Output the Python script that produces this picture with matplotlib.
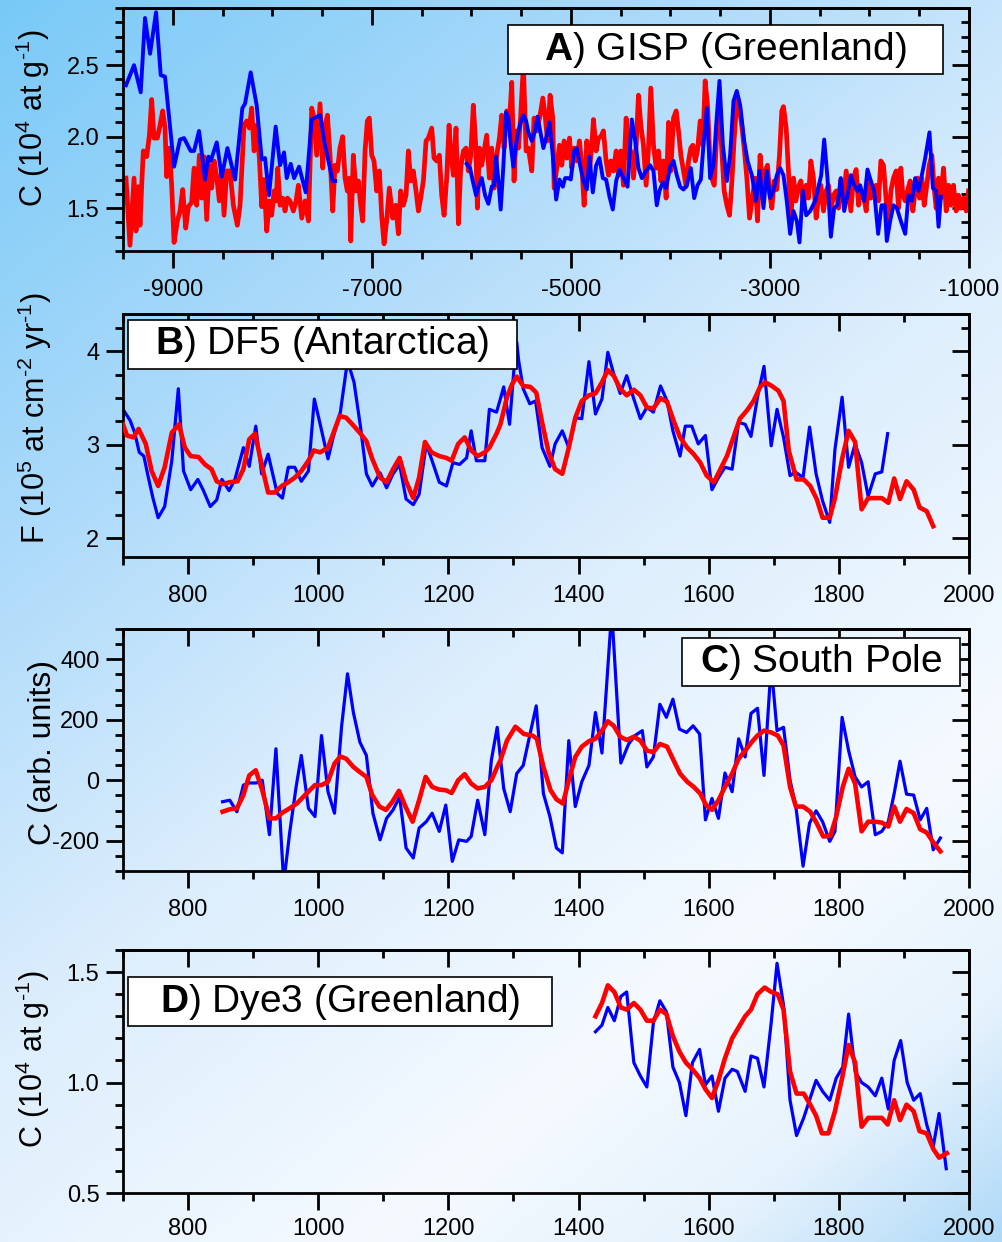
import numpy as np
import matplotlib
matplotlib.use("Agg")
import matplotlib.pyplot as plt
from matplotlib.ticker import MultipleLocator, FixedLocator, FormatStrFormatter
from matplotlib.patches import Rectangle

plt.rcParams['font.family'] = ['Liberation Sans', 'DejaVu Sans']
plt.rcParams['mathtext.fontset'] = 'custom'
plt.rcParams['mathtext.rm'] = 'Liberation Sans'
plt.rcParams['mathtext.it'] = 'Liberation Sans:italic'
plt.rcParams['mathtext.bf'] = 'Liberation Sans:bold'
plt.rcParams['axes.unicode_minus'] = False

# ---------------- data ----------------
gisp_red = [
    (-9470,1.71),(-9430,1.24),(-9389,1.71),(-9369,1.34),(-9346,1.65),(-9329,1.38),(-9312,1.66),(-9296,1.90),
    (-9262,1.86),(-9235,2.01),(-9212,2.26),(-9188,1.99),(-9155,1.99),(-9128,2.08),(-9101,2.18),(-9078,2.06),
    (-9061,1.72),(-9034,1.92),(-9011,1.66),(-8987,1.26),(-8954,1.41),(-8927,1.48),(-8900,1.63),(-8870,1.36),
    (-8843,1.51),(-8810,1.54),(-8786,1.78),(-8760,1.52),(-8733,1.87),(-8709,1.57),(-8686,1.86),(-8659,1.42),
    (-8632,1.80),(-8609,1.64),(-8585,1.83),(-8559,1.72),(-8532,1.55),(-8508,1.77),(-8485,1.45),(-8458,1.76),
    (-8425,1.76),(-8391,1.52),(-8351,1.38),(-8324,1.52),(-8284,2.08),(-8257,2.11),(-8230,2.06),(-8207,2.20),
    (-8183,1.90),(-8157,2.08),(-8130,1.85),(-8106,1.51),(-8083,1.70),(-8056,1.34),(-8029,1.55),(-8006,1.45),
    (-7982,1.62),(-7962,1.55),(-7945,1.78),(-7922,1.52),(-7895,1.57),(-7872,1.48),(-7848,1.57),(-7822,1.55),
    (-7788,1.48),(-7761,1.55),(-7738,1.66),(-7704,1.43),(-7671,1.55),(-7637,1.41),(-7604,2.20),(-7580,2.13),
    (-7554,1.87),(-7520,2.23),(-7493,1.78),(-7470,2.08),(-7446,2.15),(-7420,1.87),
    (-7393,1.48),(-7370,1.80),(-7346,1.76),(-7320,1.92),(-7293,2.00),(-7269,1.71),(-7246,1.62),(-7226,1.71),
    (-7212,1.27),(-7186,1.87),(-7159,1.62),(-7135,1.69),(-7112,1.52),(-7092,1.41),(-7068,1.90),(-7045,2.11),
    (-7025,2.13),(-7001,1.87),(-6978,1.83),(-6951,1.62),(-6924,1.76),(-6901,1.45),(-6877,1.25),(-6851,1.41),
    (-6824,1.64),(-6790,1.43),(-6760,1.52),(-6733,1.32),(-6710,1.62),(-6683,1.52),(-6656,1.59),(-6633,1.90),
    (-6609,1.69),(-6583,1.76),(-6556,1.62),(-6532,1.48),(-6509,1.57),(-6482,1.69),(-6455,1.97),(-6432,1.99),
    (-6398,2.06),(-6375,1.85),(-6348,1.83),(-6321,1.87),(-6298,1.59),(-6274,1.45),(-6248,1.71),(-6224,2.08),
    (-6207,1.90),(-6181,1.73),(-6154,2.06),(-6130,1.39),(-6107,1.78),(-6080,1.90),(-6053,1.92),(-6030,1.76),
    (-6006,1.87),(-5980,2.22),(-5956,1.94),(-5939,1.50),(-5919,1.92),(-5896,1.80),(-5872,1.90),(-5846,2.01),
    (-5819,1.71),(-5795,1.92),(-5772,1.64),(-5745,1.87),(-5718,1.99),(-5695,2.15),(-5671,1.92),(-5645,2.18),
    (-5621,2.06),(-5594,2.38),(-5571,1.69),(-5551,2.04),(-5527,1.92),(-5504,2.15),(-5477,2.50),(-5450,1.90),
    (-5427,1.92),(-5393,1.76),(-5370,2.13),(-5343,2.04),
    (-5309,2.15),(-5282,2.27),(-5259,2.15),(-5235,1.97),(-5209,2.29),(-5182,2.13),(-5168,1.64),(-5142,1.78),
    (-5115,1.94),(-5091,1.80),(-5068,1.97),(-5041,1.85),(-5014,1.99),(-4991,1.78),(-4967,1.92),(-4941,1.83),
    (-4914,1.97),(-4890,1.80),(-4867,1.52),(-4840,1.97),(-4813,1.76),(-4790,1.94),(-4773,2.12),(-4746,1.90),
    (-4723,1.99),(-4699,2.00),(-4673,2.04),(-4646,1.83),(-4622,1.73),(-4599,1.83),(-4572,1.76),(-4545,1.90),
    (-4522,1.73),(-4498,1.90),(-4472,1.66),(-4445,2.13),(-4421,1.85),(-4398,1.90),(-4371,1.71),(-4344,1.94),
    (-4321,2.29),(-4297,2.08),(-4271,1.94),(-4244,1.66),(-4220,1.92),(-4197,2.34),(-4170,1.94),(-4143,1.78),
    (-4120,1.90),(-4096,1.69),(-4070,1.83),(-4043,1.57),(-4019,2.10),(-3996,1.76),(-3969,2.13),(-3942,2.18),
    (-3919,2.04),(-3895,1.87),(-3869,1.76),(-3842,1.65),(-3818,1.83),(-3795,1.92),(-3775,1.94),(-3751,1.83),
    (-3728,1.90),(-3701,2.11),(-3674,1.94),(-3651,2.39),(-3627,2.22),(-3607,1.90),(-3584,1.71),(-3560,1.66),
    (-3533,2.05),(-3510,2.22),(-3483,1.90),(-3460,1.62),(-3433,1.52),(-3406,1.45),(-3383,1.68),(-3359,1.99),
    (-3333,2.25),(-3306,2.20),(-3282,2.07),(-3259,1.92),(-3232,1.71),(-3205,1.43),
    (-3149,1.71),(-3125,1.41),(-3099,1.87),(-3072,1.57),(-3048,1.76),(-3025,1.80),(-3005,1.62),(-2981,1.50),
    (-2958,1.69),(-2931,1.63),(-2904,1.87),(-2881,2.18),(-2864,2.21),(-2837,2.06),(-2814,1.76),(-2790,1.43),
    (-2763,1.71),(-2740,1.55),(-2713,1.65),(-2690,1.69),(-2663,1.52),(-2636,1.66),(-2613,1.57),(-2589,1.83),
    (-2563,1.71),(-2536,1.43),(-2512,1.57),(-2489,1.66),(-2462,1.48),(-2435,1.62),(-2412,1.66),(-2388,1.48),
    (-2362,1.59),(-2335,1.62),(-2311,1.50),(-2288,1.70),(-2261,1.55),(-2234,1.76),(-2211,1.62),(-2187,1.48),
    (-2161,1.71),(-2134,1.77),(-2110,1.52),(-2087,1.62),(-2060,1.59),(-2033,1.48),(-2010,1.71),(-1986,1.57),
    (-1960,1.62),(-1933,1.66),(-1909,1.55),(-1886,1.83),(-1859,1.80),(-1832,1.55),(-1809,1.36),(-1785,1.62),
    (-1759,1.71),(-1732,1.76),(-1708,1.50),(-1685,1.78),(-1665,1.59),(-1641,1.55),(-1618,1.62),(-1591,1.69),
    (-1564,1.48),(-1541,1.62),(-1517,1.71),(-1497,1.57),(-1474,1.71),(-1450,1.52),(-1424,1.66),(-1400,1.80),
    (-1373,1.87),(-1350,1.64),(-1330,1.50),(-1306,1.71),(-1283,1.57),(-1256,1.78),(-1229,1.48),(-1206,1.66),
    (-1182,1.52),(-1156,1.66),(-1129,1.48),(-1106,1.59),(-1082,1.50),(-1055,1.57),(-1028,1.48),(-1005,1.62),
]

gisp_blue_early = [
    (-9470,2.36),(-9389,2.50),(-9322,2.31),(-9279,2.83),(-9228,2.58),(-9168,2.87),(-9121,2.43),(-9078,2.42),
    (-8987,1.79),(-8927,1.98),(-8887,1.99),(-8820,1.90),(-8786,1.90),(-8736,2.04),(-8676,1.70),(-8642,1.86),
    (-8619,1.83),(-8558,1.96),(-8508,1.72),(-8451,1.92),(-8374,1.70),(-8301,2.20),(-8274,2.23),(-8217,2.45),
    (-8157,2.22),(-8106,1.84),(-8073,1.85),(-8033,1.59),(-7966,2.07),(-7922,1.80),(-7882,1.89),(-7855,1.71),
    (-7815,1.81),(-7781,1.71),(-7731,1.79),(-7664,1.61),(-7604,2.12),(-7520,2.15),(-7470,1.94),(-7393,1.69),
    (-7369,1.69),
]

gisp_blue_late = [
    (-6046,1.81),(-6013,1.78),(-5986,1.69),(-5953,1.59),(-5929,1.65),(-5896,1.71),(-5862,1.59),(-5829,1.53),
    (-5795,1.65),(-5772,1.66),(-5752,1.86),(-5728,1.69),(-5705,1.49),(-5678,1.80),(-5651,2.17),(-5628,2.13),
    (-5604,1.94),(-5578,1.79),(-5551,1.94),(-5527,2.04),(-5504,2.10),(-5477,2.15),(-5450,2.11),(-5427,2.03),
    (-5393,1.97),(-5360,2.04),(-5336,2.14),
    (-5309,2.04),(-5276,1.92),(-5242,2.01),(-5215,2.10),(-5182,1.87),(-5148,1.56),(-5115,1.70),(-5081,1.65),
    (-5058,1.71),(-5024,1.71),(-5001,1.70),(-4967,1.90),(-4941,1.92),(-4907,1.80),(-4874,1.69),(-4840,1.63),
    (-4813,1.86),(-4780,1.61),(-4746,1.80),(-4713,1.85),(-4679,1.71),(-4646,1.70),(-4612,1.58),(-4579,1.49),
    (-4545,1.69),(-4512,1.77),(-4472,1.71),(-4431,1.65),(-4388,2.12),(-4354,1.97),(-4321,1.78),(-4287,1.71),
    (-4244,1.76),(-4204,1.80),(-4170,1.76),(-4137,1.52),(-4110,1.62),(-4076,1.68),(-4043,1.64),(-4003,1.79),
    (-3969,1.83),(-3936,1.73),(-3902,1.65),(-3869,1.63),(-3835,1.66),(-3795,1.78),(-3761,1.57),(-3728,1.66),
    (-3694,1.70),(-3668,1.94),(-3634,2.20),(-3601,1.71),(-3567,1.80),(-3533,2.15),(-3507,2.39),(-3473,1.94),
    (-3433,1.69),(-3400,1.87),(-3366,2.25),(-3333,2.32),(-3299,2.22),(-3259,1.97),(-3225,1.83),(-3182,1.73),
    (-3139,1.55),(-3105,1.76),(-3065,1.50),(-3032,1.76),(-2998,1.57),(-2965,1.62),(-2931,1.73),(-2898,1.78),
    (-2864,1.73),(-2831,1.55),(-2797,1.32),(-2764,1.48),(-2730,1.41),(-2703,1.26),(-2670,1.62),(-2636,1.45),
    (-2596,1.48),(-2546,1.55),(-2512,1.65),(-2485,1.73),(-2455,1.98),(-2422,1.71),(-2388,1.30),(-2355,1.50),
    (-2321,1.52),(-2288,1.71),(-2254,1.48),(-2221,1.59),(-2187,1.73),(-2154,1.66),(-2120,1.62),(-2094,1.66),
    (-2053,1.55),(-2020,1.77),(-1986,1.69),(-1953,1.62),(-1913,1.32),(-1879,1.52),(-1846,1.52),(-1826,1.27),
    (-1792,1.41),(-1759,1.52),(-1725,1.50),(-1685,1.41),(-1641,1.32),(-1608,1.59),(-1574,1.55),(-1541,1.71),
    (-1507,1.62),(-1474,1.73),(-1440,1.85),(-1397,2.03),(-1363,1.64),(-1330,1.62),(-1306,1.37),(-1283,1.58),
]

df5_blue = [
    (700,3.38),(711,3.26),(718,3.13),(725,2.92),(732,2.88),(739,2.65),(746,2.43),(754,2.22),(764,2.34),
    (775,2.83),(785,3.60),(793,2.72),(804,2.52),(815,2.63),(823,2.52),(834,2.34),(844,2.41),(852,2.63),
    (863,2.51),(872,2.63),(885,2.97),(894,2.77),(904,3.20),(913,2.69),(923,2.90),(930,2.69),(937,2.48),
    (945,2.43),(954,2.76),(964,2.76),(974,2.61),(985,2.72),(994,3.49),(1003,3.22),(1015,2.85),(1023,3.08),
    (1034,3.35),(1045,3.90),(1055,3.67),(1065,3.19),(1074,2.69),(1083,2.56),(1095,2.70),(1105,2.54),
    (1115,2.69),(1125,2.79),(1135,2.42),(1146,2.36),(1155,2.47),(1166,3.01),(1174,2.85),(1186,2.60),
    (1197,2.56),(1207,2.81),(1217,2.79),(1228,2.86),(1235,3.15),(1243,2.83),(1256,2.83),(1263,3.38),
    (1274,3.35),(1279,3.47),(1285,3.62),(1294,3.22),(1301,3.83),(1305,4.10),(1308,3.90),(1315,3.60),
    (1325,3.44),(1334,3.47),(1344,2.97),(1356,2.77),(1364,3.01),(1375,3.15),(1385,2.97),(1395,3.29),
    (1405,3.28),(1416,3.89),(1426,3.33),(1436,3.49),(1445,3.99),(1454,3.76),(1464,3.55),(1474,3.74),
    (1485,3.49),(1495,3.28),(1505,3.40),(1515,3.35),(1526,3.63),(1536,3.47),(1545,3.15),(1556,2.88),
    (1564,3.20),(1574,3.20),(1584,3.01),(1595,3.10),(1605,2.52),(1615,2.65),(1625,2.76),(1636,2.74),
    (1646,3.24),(1656,3.22),(1665,3.09),(1675,3.51),(1685,3.84),(1696,2.99),(1705,3.38),(1715,3.08),
    (1725,2.67),(1733,2.71),(1745,2.65),(1755,3.19),(1765,2.69),(1775,2.40),(1786,2.17),(1794,2.95),
    (1805,3.51),(1815,2.76),(1825,3.01),(1835,2.81),(1845,2.45),(1856,2.69),(1866,2.71),(1875,3.12),
]

df5_red = [
    (700,3.22),(706,3.10),(716,3.08),(724,3.17),(735,3.01),(744,2.72),(754,2.56),(764,2.76),(775,3.13),
    (786,3.22),(795,2.97),(804,2.88),(816,2.87),(826,2.79),(836,2.74),(844,2.61),(853,2.58),(864,2.60),
    (876,2.61),(885,2.74),(894,3.06),(903,3.12),(913,2.79),(923,2.49),(933,2.49),(944,2.56),(954,2.60),
    (964,2.65),(974,2.72),(985,2.83),(993,2.94),(1003,2.92),(1015,2.97),(1023,3.12),(1033,3.31),(1043,3.29),
    (1055,3.20),(1065,3.12),(1074,3.04),(1083,2.85),(1095,2.65),(1105,2.60),(1115,2.74),(1125,2.86),
    (1135,2.61),(1146,2.43),(1155,2.65),(1164,3.03),(1174,2.92),(1186,2.88),(1197,2.86),(1205,2.83),
    (1215,3.01),(1225,3.08),(1235,2.94),(1245,2.88),(1256,2.92),(1263,2.97),(1274,3.12),(1280,3.22),
    (1290,3.51),(1298,3.65),(1305,3.73),(1315,3.63),(1326,3.62),(1335,3.56),(1344,3.24),(1354,2.92),
    (1364,2.74),(1375,2.69),(1385,2.97),(1395,3.29),(1405,3.47),(1416,3.53),(1426,3.55),(1436,3.67),
    (1445,3.80),(1454,3.74),(1464,3.60),(1474,3.53),(1485,3.59),(1495,3.53),(1505,3.40),(1515,3.39),
    (1526,3.50),(1536,3.46),(1546,3.26),(1556,3.08),(1567,2.97),(1577,2.90),(1587,2.81),(1597,2.67),
    (1608,2.60),(1618,2.74),(1628,2.88),(1638,3.08),(1648,3.28),(1659,3.37),(1669,3.47),(1679,3.62),
    (1687,3.67),(1697,3.63),(1707,3.58),(1715,3.47),(1723,2.94),(1735,2.63),(1746,2.63),(1756,2.56),
    (1766,2.42),(1775,2.22),(1786,2.22),(1794,2.43),(1805,2.85),(1815,3.15),(1825,3.03),(1835,2.31),
    (1845,2.43),(1856,2.43),(1866,2.43),(1876,2.38),(1885,2.64),(1894,2.42),(1904,2.61),(1915,2.52),
    (1924,2.33),(1935,2.29),(1945,2.13),
]

sp_blue = [
    (853,-71),(864,-66),(875,-104),(885,-16),(894,-9),(905,-9),(914,0),(925,-180),(935,104),(947,-340),
    (956,-175),(966,-22),(974,82),(985,-93),(995,-120),(1005,148),(1015,-38),(1025,-109),(1036,180),
    (1045,352),(1054,224),(1064,126),(1074,82),(1084,-109),(1095,-197),(1105,-126),(1115,-98),(1125,-55),
    (1135,-224),(1146,-257),(1155,-158),(1166,-137),(1175,-109),(1186,-169),(1196,-82),(1206,-268),
    (1216,-197),(1228,-202),(1235,-186),(1245,-66),(1256,-180),(1266,66),(1275,175),(1285,-27),(1295,-104),
    (1305,22),(1315,49),(1325,148),(1335,246),(1346,-44),(1356,-120),(1366,-224),(1375,-240),(1385,131),
    (1395,-87),(1405,-5),(1416,49),(1426,224),(1436,90),(1451,560),(1465,57),(1477,120),(1487,148),
    (1498,164),(1505,44),(1515,77),(1525,251),(1535,208),(1545,268),(1555,169),(1566,158),(1576,180),
    (1586,153),(1595,-131),(1605,-60),(1615,-126),(1625,24),(1636,-38),(1646,137),(1656,77),(1665,221),
    (1675,238),(1685,16),(1696,380),(1705,164),(1715,175),(1725,0),(1734,-87),(1745,-284),(1755,-142),
    (1765,-101),(1775,-137),(1786,-202),(1794,-169),(1805,208),(1815,98),(1825,11),(1835,-22),(1845,-5),
    (1856,-180),(1866,-169),(1876,-137),(1885,-44),(1894,63),(1904,-46),(1915,-49),(1925,-131),(1935,-93),
    (1945,-230),(1956,-191),
]

sp_red = [
    (853,-104),(864,-96),(875,-93),(885,-49),(894,16),(904,33),(914,-33),(925,-126),(935,-126),(945,-107),
    (956,-93),(967,-77),(977,-55),(987,-33),(995,-16),(1005,-16),(1015,-5),(1025,55),(1034,79),(1043,71),
    (1054,44),(1064,27),(1074,11),(1083,-49),(1094,-87),(1104,-98),(1114,-71),(1124,-35),(1134,-87),
    (1145,-137),(1155,-66),(1165,11),(1175,-22),(1186,-31),(1196,-33),(1205,-42),(1215,0),(1225,20),
    (1235,-11),(1245,-27),(1256,-22),(1266,0),(1275,44),(1280,66),(1290,131),(1303,177),(1316,153),
    (1329,148),(1336,137),(1346,44),(1357,-33),(1366,-63),(1376,-77),(1385,0),(1395,77),(1405,111),
    (1416,129),(1426,137),(1436,164),(1445,195),(1454,180),(1464,144),(1474,133),(1485,144),(1495,131),
    (1505,98),(1515,93),(1525,120),(1536,111),(1546,66),(1556,22),(1567,-5),(1577,-22),(1587,-44),
    (1596,-82),(1605,-98),(1615,-66),(1625,-22),(1636,22),(1646,71),(1656,98),(1666,126),(1675,148),
    (1685,164),(1696,158),(1706,148),(1715,115),(1725,-22),(1734,-87),(1745,-87),(1756,-104),(1766,-142),
    (1776,-186),(1787,-184),(1796,-120),(1806,-22),(1815,38),(1825,-11),(1835,-169),(1845,-137),
    (1856,-137),(1866,-140),(1876,-153),(1885,-87),(1894,-137),(1904,-95),(1915,-109),(1925,-162),
    (1935,-173),(1945,-205),(1956,-235),
]

dye3_blue = [
    (1426,1.23),(1436,1.26),(1445,1.34),(1455,1.28),(1465,1.39),(1474,1.41),(1485,1.09),(1495,1.03),
    (1505,0.98),(1515,1.27),(1525,1.37),(1535,1.32),(1545,1.07),(1555,1.00),(1565,0.85),(1575,1.09),
    (1586,1.15),(1595,0.99),(1605,1.03),(1615,0.87),(1625,1.02),(1636,1.06),(1644,1.05),(1656,0.96),
    (1665,1.12),(1675,1.11),(1685,0.98),(1696,1.27),(1705,1.54),(1715,1.35),(1725,0.92),(1735,0.76),
    (1746,0.84),(1756,0.93),(1765,1.01),(1775,0.96),(1786,0.92),(1796,1.02),(1806,1.07),(1815,1.31),
    (1825,1.05),(1835,1.00),(1845,0.98),(1856,0.94),(1866,1.02),(1876,0.88),(1885,1.10),(1895,1.19),
    (1905,1.00),(1915,0.92),(1925,0.95),(1935,0.81),(1945,0.71),(1954,0.86),(1965,0.61),
]

dye3_red = [
    (1426,1.30),(1436,1.36),(1445,1.44),(1455,1.41),(1465,1.34),(1474,1.33),(1485,1.36),(1495,1.33),
    (1505,1.28),(1515,1.28),(1525,1.33),(1535,1.31),(1545,1.21),(1555,1.14),(1565,1.09),(1575,1.06),
    (1586,1.02),(1595,0.97),(1605,0.93),(1615,1.01),(1625,1.11),(1636,1.20),(1644,1.24),(1656,1.30),
    (1665,1.33),(1675,1.40),(1686,1.43),(1696,1.41),(1706,1.40),(1715,1.33),(1725,1.05),(1735,0.95),
    (1746,0.95),(1756,0.90),(1765,0.85),(1774,0.77),(1784,0.77),(1794,0.87),(1805,1.02),(1815,1.17),
    (1825,1.09),(1835,0.80),(1845,0.84),(1856,0.84),(1866,0.84),(1875,0.81),(1885,0.92),(1894,0.83),
    (1904,0.90),(1915,0.87),(1924,0.78),(1935,0.77),(1945,0.70),(1954,0.66),(1966,0.68),
]

panel_titles = [("A", " GISP (Greenland)"), ("B", " DF5 (Antarctica)"),
                ("C", " South Pole"), ("D", " Dye3 (Greenland)")]
ylabels = [r"C (10$^4$ at g$^{\text{-}1}$)", r"F (10$^5$ at cm$^{\text{-}2}$ yr$^{\text{-}1}$)",
           "C (arb. units)", r"C (10$^4$ at g$^{\text{-}1}$)"]
gisp_xticks = [-9000, -7000, -5000, -3000, -1000]

BLUE = (0, 0, 1)
RED = (1, 0, 0)

# ---------------- figure ----------------
W, H = 1003, 1242
fig = plt.figure(figsize=(W / 100, H / 100), dpi=100)

# background gradient
bg = fig.add_axes([0, 0, 1, 1], zorder=-10)
yy, xx = np.mgrid[0:H, 0:W]
t = (xx * W + yy * H) / float(W * W + H * H)
stops = [0.0, 0.25, 0.5, 0.75, 0.88, 1.0]
cols = np.array([(0.47, 0.79, 0.97), (0.66, 0.85, 0.98), (0.86, 0.93, 0.99),
                 (0.96, 0.98, 1.0), (0.90, 0.95, 0.99), (0.68, 0.85, 0.97)])
img = np.dstack([np.interp(t, stops, cols[:, k]) for k in range(3)])
bg.imshow(img, aspect='auto', extent=[0, 1, 0, 1], origin='upper')
bg.set_axis_off()


def px_rect(left, top, right, bottom):
    return [left / W, 1 - bottom / H, (right - left) / W, (bottom - top) / H]


def style_axes(ax, xmaj_loc, xminor, ymaj, yminor, yfmt, xpad=8):
    ax.patch.set_alpha(0)
    ax.xaxis.set_major_locator(xmaj_loc)
    ax.xaxis.set_minor_locator(MultipleLocator(xminor))
    ax.yaxis.set_major_locator(MultipleLocator(ymaj))
    ax.yaxis.set_minor_locator(MultipleLocator(yminor))
    ax.yaxis.set_major_formatter(FormatStrFormatter(yfmt))
    for s in ax.spines.values():
        s.set_linewidth(2)
    ax.tick_params(which='major', direction='out', length=12, width=2, labelsize=17)
    ax.tick_params(which='minor', direction='out', length=6, width=2)
    ax.tick_params(axis='x', which='major', pad=xpad)
    ax.tick_params(axis='y', which='major', pad=5)
    # mirrored ticks pointing inward on top / right
    sx = ax.secondary_xaxis('top')
    sx.xaxis.set_major_locator(xmaj_loc)
    sx.xaxis.set_minor_locator(MultipleLocator(xminor))
    sx.tick_params(which='major', direction='in', length=12, width=2, labeltop=False)
    sx.tick_params(which='minor', direction='in', length=6, width=2)
    sx.spines['top'].set_linewidth(2)
    sy = ax.secondary_yaxis('right')
    sy.yaxis.set_major_locator(MultipleLocator(ymaj))
    sy.yaxis.set_minor_locator(MultipleLocator(yminor))
    sy.tick_params(which='major', direction='in', length=12, width=2, labelright=False)
    sy.tick_params(which='minor', direction='in', length=6, width=2)
    sy.spines['right'].set_linewidth(2)


def add_title_box(ax, rect, title):
    x0, y0, x1, y1 = rect
    ax.add_patch(Rectangle((x0, y0), x1 - x0, y1 - y0, transform=ax.transAxes,
                           facecolor='white', edgecolor='black', linewidth=1.2,
                           zorder=5, clip_on=False))
    letter, rest = title
    ax.text((x0 + x1) / 2, (y0 + y1) / 2, r"$\mathbf{%s}$)%s" % (letter, rest),
            transform=ax.transAxes, ha='center', va='center', fontsize=28,
            zorder=6)


def xy(pairs):
    a = np.array(pairs, dtype=float)
    return a[:, 0], a[:, 1]


# Panel A
axA = fig.add_axes(px_rect(123, 8, 969, 251))
x, y = xy(gisp_red)
axA.plot(x, y, color=RED, lw=3.4, zorder=2, solid_joinstyle='round')
xb = np.concatenate([xy(gisp_blue_early)[0], [np.nan], xy(gisp_blue_late)[0]])
yb = np.concatenate([xy(gisp_blue_early)[1], [np.nan], xy(gisp_blue_late)[1]])
axA.plot(xb, yb, color=BLUE, lw=2.8, zorder=3, solid_joinstyle='round')
axA.set_xlim(-9500, -1000)
axA.set_ylim(1.2, 2.9)
style_axes(axA, FixedLocator(gisp_xticks), 500, 0.5, 0.1, '%.1f', xpad=8.5)
add_title_box(axA, (0.455, 0.728, 0.969, 0.930), panel_titles[0])
axA.set_ylabel(ylabels[0], fontsize=22, va='center')
axA.yaxis.set_label_coords(-0.106, 0.547)

# Panel B
axB = fig.add_axes(px_rect(123, 314, 969, 557))
x, y = xy(df5_blue)
axB.plot(x, y, color=BLUE, lw=2.3, zorder=2)
x, y = xy(df5_red)
axB.plot(x, y, color=RED, lw=3.3, zorder=3)
axB.set_xlim(700, 2000)
axB.set_ylim(1.8, 4.4)
style_axes(axB, MultipleLocator(200), 100, 1, 0.25, '%d', xpad=8)
add_title_box(axB, (0.006, 0.774, 0.466, 0.975), panel_titles[1])
axB.set_ylabel(ylabels[1], fontsize=22, va='center')
axB.yaxis.set_label_coords(-0.104, 0.572)

# Panel C
axC = fig.add_axes(px_rect(123, 629, 969, 871))
x, y = xy(sp_blue)
axC.plot(x, y, color=BLUE, lw=2.3, zorder=2)
x, y = xy(sp_red)
axC.plot(x, y, color=RED, lw=3.3, zorder=3)
axC.set_xlim(700, 2000)
axC.set_ylim(-300, 500)
style_axes(axC, MultipleLocator(200), 100, 200, 50, '%d', xpad=8)
add_title_box(axC, (0.661, 0.764, 0.989, 0.963), panel_titles[2])
axC.set_ylabel(ylabels[2], fontsize=23, va='center')
axC.yaxis.set_label_coords(-0.094, 0.488)

# Panel D
axD = fig.add_axes(px_rect(123, 950, 969, 1193))
x, y = xy(dye3_blue)
axD.plot(x, y, color=BLUE, lw=2.3, zorder=2)
x, y = xy(dye3_red)
axD.plot(x, y, color=RED, lw=3.3, zorder=3)
axD.set_xlim(700, 2000)
axD.set_ylim(0.5, 1.6)
style_axes(axD, MultipleLocator(200), 100, 0.5, 0.1, '%.1f', xpad=6)
add_title_box(axD, (0.006, 0.687, 0.507, 0.889), panel_titles[3])
axD.set_ylabel(ylabels[3], fontsize=22, va='center')
axD.yaxis.set_label_coords(-0.106, 0.551)

fig.savefig("out.png", dpi=100)
